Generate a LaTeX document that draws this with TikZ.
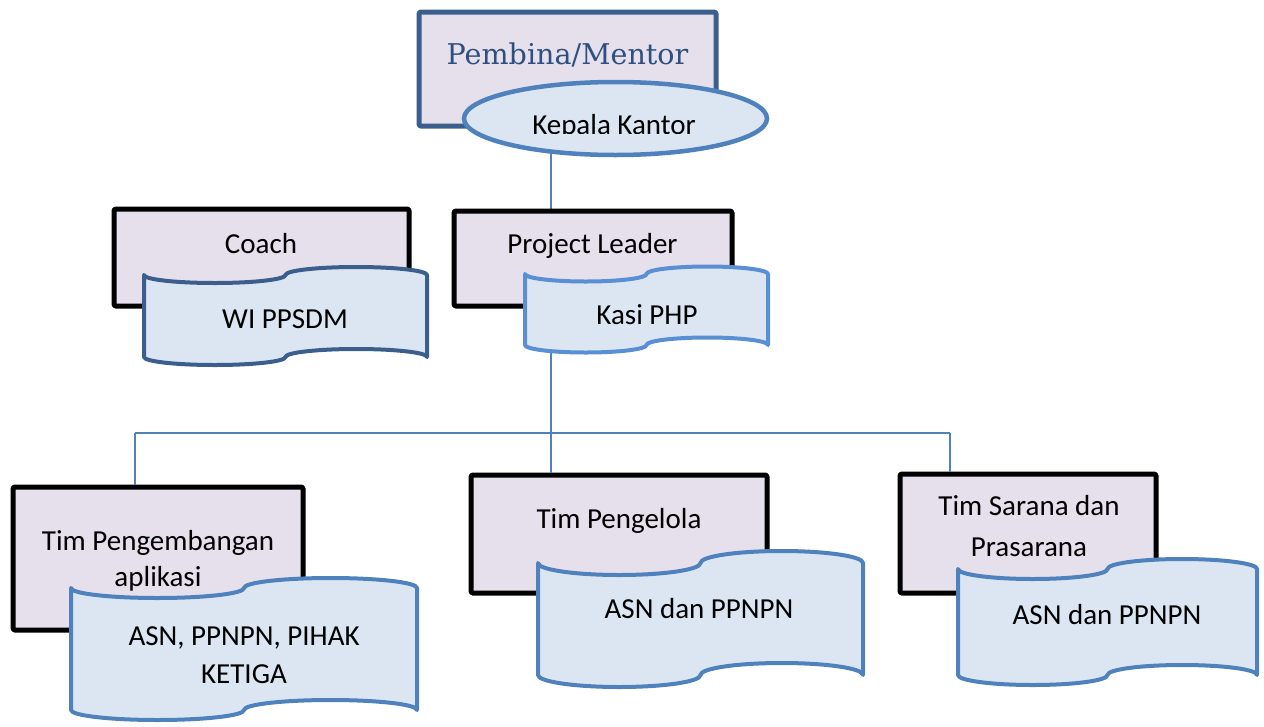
\documentclass[tikz,border=0pt]{standalone}
\usepackage{fontspec}
\setmainfont{Carlito}
\newfontfamily\headserif{DejaVu Serif}
\usetikzlibrary{shapes.geometric}

\definecolor{boxfill}{HTML}{E5E0EC}
\definecolor{tapefill}{HTML}{DCE6F2}
\definecolor{navy}{HTML}{3B5E8C}
\definecolor{midblue}{HTML}{4F81BD}
\definecolor{brightblue}{HTML}{5A8FD3}
\definecolor{headtext}{HTML}{2E4F80}

% punched-tape outline: style, left x, width, top-edge y, bottom-edge y, wave depth
\newcommand\punchtape[6]{%
  \draw[#1] (#2,#4)
    arc[start angle=180,end angle=0,x radius=#3/4,y radius=#6]
    arc[start angle=180,end angle=360,x radius=#3/4,y radius=#6]
    -- ++(0,#5-#4)
    arc[start angle=0,end angle=-180,x radius=#3/4,y radius=#6]
    arc[start angle=0,end angle=180,x radius=#3/4,y radius=#6]
    -- cycle;}

\begin{document}
\begin{tikzpicture}[x=1pt,y=-1pt,
  orgbox/.style={draw=black,line width=5pt,fill=boxfill,inner sep=0pt,
    rounded corners=1.5pt,line join=round},
  tape/.style={fill=tapefill,line width=4pt,line join=round},
  label/.style={anchor=base,inner sep=0pt,font=\fontsize{29}{35}\selectfont},
  link/.style={draw=midblue,line width=1.6pt}]

\useasboundingbox (0,0) rectangle (1264,726);

% connector coordinates
\coordinate (trunkTop) at (551,150);
\coordinate (dropL) at (135,433);
\coordinate (dropR) at (950,433);

% boxes of the lower row (placed first so the connectors can refer to them)
\node[orgbox,minimum width=290pt,minimum height=143pt] (devbox) at (158,558.5) {};
\node[orgbox,minimum width=296pt,minimum height=118pt] (pengelolabox) at (619,534) {};
\node[orgbox,minimum width=256pt,minimum height=119pt] (saranabox) at (1028,533.5) {};

% connectors
\draw[link] (trunkTop) -- (trunkTop |- pengelolabox.north);
\draw[link] (dropL) -- (dropR);
\draw[link] (dropL) -- (dropL |- devbox.north);
\draw[link] (dropR) -- (dropR |- saranabox.north);

% top: Pembina / Mentor
\node[orgbox,draw=navy,minimum width=297pt,minimum height=114pt] (mentorbox) at (567.5,69) {};
\node[anchor=base,inner sep=0pt,text=headtext,font=\headserif\fontsize{28.6}{34}\selectfont]
  (mentor) at (567.5,64) {Pembina/Mentor};
\node[ellipse,draw=midblue,line width=4.5pt,fill=tapefill,inner sep=0pt,
  minimum width=303pt,minimum height=73pt] (kepala) at (615.5,118.5) {};
\begin{scope}
  \clip (460,80) rectangle (772,133);
  \node[label] (kepalatext) at (614,134.5) {Kepala Kantor};
\end{scope}

% coach
\node[orgbox,minimum width=295pt,minimum height=97pt] (coachbox) at (261.5,257.5) {};
\node[label] (coach) at (261,253) {Coach};
\punchtape{tape,draw=navy}{144}{283}{275}{357}{8}
\node[label] (wi) at (285,328) {WI PPSDM};

% project leader
\node[orgbox,minimum width=278pt,minimum height=95pt] (leaderbox) at (593,258.5) {};
\node[label] (leader) at (592.5,253) {Project Leader};
\punchtape{tape,draw=brightblue}{525}{243}{274}{345}{7.5}
\node[label] (kasi) at (647,324) {Kasi PHP};

% teams
\node[label] (dev1) at (158,550) {Tim Pengembangan};
\node[label] (dev2) at (158,586) {aplikasi};
\punchtape{tape,draw=midblue}{71}{346}{588}{710}{10}
\node[label] (devstaff1) at (244,645) {ASN, PPNPN, PIHAK};
\node[label] (devstaff2) at (244,683) {KETIGA};

\node[label] (pengelola) at (619,528) {Tim Pengelola};
\punchtape{tape,draw=midblue}{538}{325}{563}{675}{12}
\node[label] (pengelolastaff) at (699,618) {ASN dan PPNPN};

\node[label] (sarana1) at (1029,515) {Tim Sarana dan};
\node[label] (sarana2) at (1029,556) {Prasarana};
\punchtape{tape,draw=midblue}{958}{299}{569}{675}{10}
\node[label] (saranastaff) at (1107,624) {ASN dan PPNPN};

\end{tikzpicture}
\end{document}
